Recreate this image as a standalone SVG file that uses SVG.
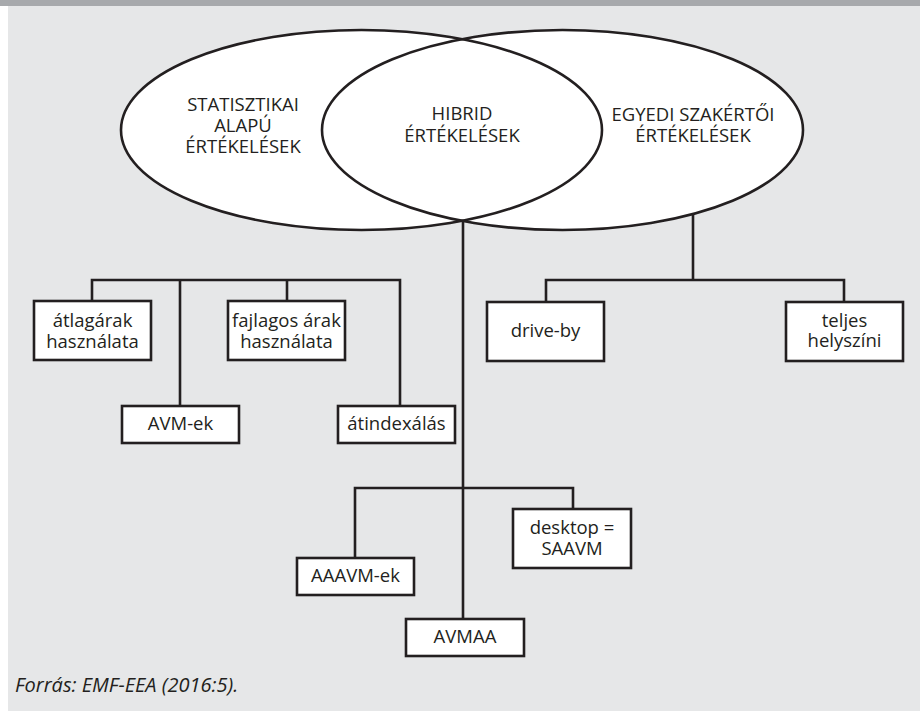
<svg xmlns="http://www.w3.org/2000/svg" width="920" height="711" viewBox="0 0 920 711">
<style>
.bg{fill:#e6e7e8}
.bar{fill:#a7a9ac}
.ell{fill:none;stroke:#231f20;stroke-width:2.6}
.ellf{fill:#ffffff;stroke:none}
.box{fill:#ffffff;stroke:#231f20;stroke-width:2.6}
.ln{fill:none;stroke:#231f20;stroke-width:2.6}
.t{font-family:"Open Sans","Noto Sans",sans-serif;font-size:18.5px;fill:#231f20;text-anchor:middle}
.src{font-family:"Open Sans","Noto Sans",sans-serif;font-size:20px;font-style:italic;fill:#231f20}
</style>
<rect x="0" y="0" width="920" height="711" fill="#ffffff"/>
<rect class="bg" x="8" y="6" width="912" height="705"/>
<rect class="bar" x="0" y="0" width="920" height="6"/>

<g id="venn">
<ellipse class="ellf" cx="361.5" cy="130" rx="240.5" ry="100"/>
<ellipse class="ellf" cx="562.5" cy="130" rx="240.5" ry="100"/>
<ellipse class="ell" cx="361.5" cy="130" rx="240.5" ry="100"/>
<ellipse class="ell" cx="562.5" cy="130" rx="240.5" ry="100"/>
</g>
<g id="statisztikai">
<text class="t" x="243" y="111">STATISZTIKAI</text>
<text class="t" x="243" y="132">ALAPÚ</text>
<text class="t" x="243" y="153">ÉRTÉKELÉSEK</text>
</g>
<g id="hibrid">
<text class="t" x="462" y="120">HIBRID</text>
<text class="t" x="462" y="142">ÉRTÉKELÉSEK</text>
</g>
<g id="egyedi">
<text class="t" x="693" y="121">EGYEDI SZAKÉRTŐI</text>
<text class="t" x="693" y="142">ÉRTÉKELÉSEK</text>
</g>

<g id="connectors">
<polyline class="ln" points="92,301 92,280 400,280 400,406"/>
<line class="ln" x1="180" y1="280" x2="180" y2="406"/>
<line class="ln" x1="287" y1="280" x2="287" y2="301"/>
<line class="ln" x1="693" y1="214" x2="693" y2="280"/>
<polyline class="ln" points="546,302 546,280 844,280 844,302"/>
<line class="ln" x1="463" y1="221" x2="463" y2="619"/>
<polyline class="ln" points="355,558 355,488 573,488 573,509"/>
</g>

<g id="atlagarak">
<rect class="box" x="34" y="301" width="117" height="59"/>
<text class="t" x="92.5" y="327">átlagárak</text>
<text class="t" x="92.5" y="348">használata</text>
</g>
<g id="avm-ek">
<rect class="box" x="122" y="406" width="117" height="37"/>
<text class="t" x="180.5" y="430">AVM-ek</text>
</g>
<g id="fajlagos">
<rect class="box" x="228" y="301" width="117" height="59"/>
<text class="t" x="286.5" y="327">fajlagos árak</text>
<text class="t" x="286.5" y="348">használata</text>
</g>
<g id="atindexalas">
<rect class="box" x="338" y="406" width="117" height="37"/>
<text class="t" x="396.5" y="430">átindexálás</text>
</g>
<g id="drive-by">
<rect class="box" x="487" y="302" width="117" height="59"/>
<text class="t" x="545.5" y="337">drive-by</text>
</g>
<g id="teljes">
<rect class="box" x="786" y="302" width="117" height="59"/>
<text class="t" x="844.5" y="327">teljes</text>
<text class="t" x="844.5" y="347">helyszíni</text>
</g>
<g id="desktop">
<rect class="box" x="513" y="509" width="118" height="59"/>
<text class="t" x="572" y="534">desktop =</text>
<text class="t" x="572" y="555">SAAVM</text>
</g>
<g id="aaavm-ek">
<rect class="box" x="297" y="558" width="117" height="37"/>
<text class="t" x="355.5" y="582">AAAVM-ek</text>
</g>
<g id="avmaa">
<rect class="box" x="406" y="619" width="118" height="37"/>
<text class="t" x="465" y="643">AVMAA</text>
</g>

<text class="src" x="15" y="692">Forrás: EMF-EEA (2016:5).</text>
</svg>
